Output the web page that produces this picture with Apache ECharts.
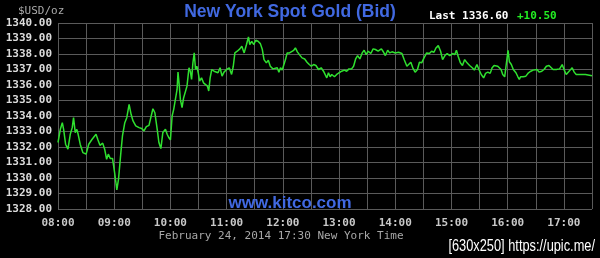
<!DOCTYPE html>
<html><head><meta charset="utf-8">
<script src="https://cdn.jsdelivr.net/npm/echarts@6/dist/echarts.min.js"></script>
<style>html,body{margin:0;padding:0;background:#000;}#c{width:600px;height:258px;}</style>
</head><body><div id="c"></div>
<script>
// minutes after 08:00 (New York time)
const minutes = [
  0, 2.5, 4.6, 6, 8.1, 10.6, 13.1, 15.2, 16.6, 18.4, 20.1, 21.5, 23.7, 26.5, 30, 32.8, 36.4, 40.6, 42.4, 44.8,
  47.7, 49.8, 51.9, 53.7, 55.8, 58.2, 60.4, 61.8, 62.8, 64.6, 67.1, 68.8, 71.3, 73.4, 75.9, 78, 80.1, 83, 86.5, 89.3,
  91.8, 94.3, 97.1, 98.8, 101.3, 103.4, 105.9, 107.7, 109.8, 111.9, 114.7, 116.5, 118.2, 120,
  121.8, 123.5, 125.3, 127.1, 128.1, 129.5, 130.6, 132.4, 134.1, 136.2, 137.7, 139.8, 141.2, 142.6, 144, 145.4,
  146.8, 148.2, 149.7, 151.1, 153.2, 155.3, 157.4, 159.5, 160.9, 162.4, 164.1, 166.6, 168.7, 170.8, 173, 175.1,
  177.2, 180, 182.8, 185.3, 187.1, 188.8, 191.3, 194.1, 196.2, 198.7, 201.2, 203.3, 204.7, 206.8, 209, 211.1,
  213.5, 216, 218.1, 219.9, 222.4, 224.5, 226.6, 229.4,
  231.5, 234, 235.8, 237.5, 239.3, 241.1, 242.8, 244.6, 247.1, 249.2, 251.6, 253.4, 255.5, 257.7, 260.5, 263.3,
  265.8, 268.2, 270.4, 272.8, 275.3, 278.1, 280.9, 283.4, 285.2, 286.9, 288.7, 290.5, 292.2, 295.1, 297.5, 300,
  302.8, 305.7, 308.1, 310.6, 313.4, 315.5, 317.7, 319.8, 322.2, 324.7, 326.8, 329, 331.1, 333.9, 336.4, 338.8,
  341.7, 345.2,
  346.9, 349.4, 351.9, 354, 356.5, 360, 363.5, 367.1, 369.5, 372.4, 374.5, 376.6, 378.7, 381.2, 383.7, 385.8,
  388.2, 390.7, 393.5, 396.4, 398.8, 401.3, 403.4, 405.9, 408.4, 410.5, 413, 415.4, 418.2, 421.1, 423.5, 425.3,
  427.1, 429.5, 431.7, 434.1, 436.6, 439.4, 442.2, 444.4, 447.2, 449.3, 451.8, 454.3, 456.4, 458.8,
  461.3, 463.4, 465.5, 467.6, 469.4, 471.2, 472.9, 474.7, 476.8, 478.2, 479.6, 480.4, 481.8, 483.9, 486, 488.8,
  490.9, 492.4, 493.8, 496.6, 499.4, 502.2, 504.7, 507.2, 509.3, 511.4, 513.5, 516.4, 518.8, 521.3, 524.1, 526.2,
  528.4, 531.9, 535.4, 538.2, 540.4, 542.5, 544.6, 546.7, 548.8, 551, 553.1, 555.9, 563, 570
];
const prices = [
  1332.29, 1333.14, 1333.57, 1333.14, 1332.18, 1331.86, 1332.82, 1333.25, 1333.89, 1332.93, 1333.14, 1332.82, 1332.18, 1331.64, 1331.54, 1332.18, 1332.50, 1332.82, 1332.50, 1332.11,
  1332.25, 1331.86, 1331.21, 1331.54, 1331.26, 1331.26, 1330.36, 1329.71, 1329.24, 1329.93, 1331.64, 1332.71, 1333.57, 1333.89, 1334.75, 1334.11, 1333.68, 1333.36, 1333.25, 1333.19,
  1333.04, 1333.31, 1333.40, 1333.40, 1334.47, 1334.21, 1333.14, 1332.29, 1331.90, 1332.93, 1333.14, 1332.82, 1332.61, 1332.46,
  1334.00, 1334.43, 1334.54, 1335.71, 1336.83, 1335.93, 1335.07, 1334.54, 1335.18, 1335.29, 1335.93, 1337.11, 1336.89, 1336.36, 1337.43, 1338.07,
  1337.00, 1337.21, 1336.79, 1336.25, 1336.46, 1336.14, 1336.25, 1335.93, 1335.61, 1336.46, 1337.00, 1336.89, 1337.00, 1336.79, 1337.11, 1336.57,
  1336.83, 1337.00, 1337.11, 1336.68, 1337.21, 1338.07, 1338.18, 1338.33, 1338.50, 1338.07, 1338.61, 1339.10, 1338.61, 1338.82, 1338.61, 1338.89,
  1338.82, 1338.67, 1338.29, 1337.64, 1337.43, 1337.60, 1337.21, 1337.04,
  1337.00, 1337.11, 1336.83, 1337.11, 1336.96, 1337.00, 1337.64, 1338.07, 1338.07, 1338.18, 1338.24, 1338.39, 1338.14, 1337.96, 1337.75, 1337.68,
  1337.47, 1337.32, 1337.21, 1337.32, 1337.26, 1337.00, 1337.11, 1336.89, 1336.96, 1336.46, 1336.79, 1336.53, 1336.68, 1336.53, 1336.68, 1336.79,
  1336.89, 1336.96, 1336.89, 1337.04, 1337.04, 1337.21, 1337.68, 1337.90, 1337.68, 1338.07, 1338.24, 1337.96, 1338.18, 1338.03, 1338.33, 1338.29,
  1338.18, 1338.33,
  1338.18, 1337.90, 1338.24, 1338.07, 1338.14, 1338.07, 1338.11, 1338.03, 1337.64, 1337.21, 1337.26, 1337.47, 1337.11, 1336.83, 1337.00, 1337.47,
  1337.43, 1337.75, 1338.07, 1338.03, 1338.18, 1338.11, 1338.39, 1338.54, 1338.18, 1337.64, 1337.90, 1338.03, 1337.90, 1338.03, 1337.96, 1338.24,
  1337.86, 1337.43, 1337.26, 1337.64, 1337.43, 1337.26, 1337.11, 1336.96, 1337.32, 1337.00, 1336.68, 1336.46, 1336.75, 1336.83,
  1336.75, 1337.11, 1337.26, 1337.32, 1337.21, 1337.32, 1337.00, 1336.68, 1336.53, 1337.21, 1337.86, 1338.24, 1337.50, 1337.32, 1337.00, 1336.79,
  1336.53, 1336.36, 1336.53, 1336.53, 1336.57, 1336.79, 1336.89, 1336.96, 1336.89, 1337.00, 1336.83, 1336.89, 1337.00, 1337.21, 1337.26, 1337.21,
  1337.00, 1337.00, 1337.04, 1337.32, 1336.96, 1336.68, 1336.79, 1336.96, 1337.11, 1336.83, 1336.68, 1336.68, 1336.68, 1336.60
];
const hourLabels = ['08:00','09:00','10:00','11:00','12:00','13:00','14:00','15:00','16:00','17:00'];
const yMin = 1328, yMax = 1340;
const titleText = 'New York Spot Gold (Bid)';
const lastText = 'Last 1336.60';
const changeText = '+10.50';
const unitText = '$USD/oz';
const siteText = 'www.kitco.com';
const dateText = 'February 24, 2014 17:30 New York Time';
const markText = '[630x250] https://upic.me/';

const chart = echarts.init(document.getElementById('c'), null, {renderer: 'canvas'});
const mono = '"DejaVu Sans Mono", monospace';
chart.setOption({
  backgroundColor: '#000',
  animation: false,
  grid: {left: 58, right: 8, top: 23, bottom: 49, containLabel: false},
  xAxis: {
    type: 'value', min: 0, max: 570, interval: 30,
    axisLine: {show: false}, axisTick: {show: false},
    splitLine: {show: true, lineStyle: {color: '#5a5a5a', width: 1}},
    axisLabel: {
      color: '#c8c8c8', fontFamily: mono, fontSize: 11, fontWeight: 'bold', margin: 9,
      showMinLabel: true, showMaxLabel: true,
      formatter: v => (v % 60 === 0 ? hourLabels[v / 60] : '')
    }
  },
  yAxis: {
    type: 'value', min: yMin, max: yMax, interval: 1,
    axisLine: {show: false}, axisTick: {show: false},
    splitLine: {show: true, lineStyle: {color: '#5a5a5a', width: 1}},
    axisLabel: {color: '#dcdcdc', fontFamily: mono, fontSize: 11, fontWeight: 'bold', margin: 6,
      formatter: v => v.toFixed(2)}
  },
  series: [{
    type: 'line', data: minutes.map((m, i) => [m, prices[i]]),
    showSymbol: false, symbol: 'none',
    lineStyle: {color: '#2fe02f', width: 1.5}
  }],
  graphic: [
    {type: 'text', x: 290, y: 12, style: {text: titleText, fill: '#4169e1', font: 'bold 17.5px "Liberation Sans", Arial', textAlign: 'center', textVerticalAlign: 'middle'}},
    {type: 'text', x: 18, y: 11, style: {text: unitText, fill: '#aaaaaa', font: '11px ' + mono, textAlign: 'left', textVerticalAlign: 'middle'}},
    {type: 'text', x: 429, y: 16.5, style: {text: lastText, fill: '#ffffff', font: 'bold 11px ' + mono, textAlign: 'left', textVerticalAlign: 'middle'}},
    {type: 'text', x: 517, y: 16.5, style: {text: changeText, fill: '#22ee22', font: 'bold 11px ' + mono, textAlign: 'left', textVerticalAlign: 'middle'}},
    {type: 'text', x: 290, y: 203, z: 10, style: {text: siteText, fill: '#4169e1', font: 'bold 17px "Liberation Sans", Arial', textAlign: 'center', textVerticalAlign: 'middle'}},
    {type: 'text', x: 281, y: 236, style: {text: dateText, fill: '#a8a8a8', font: '11px ' + mono, textAlign: 'center', textVerticalAlign: 'middle'}},
    {type: 'text', x: 595, y: 247, scaleX: 0.8, style: {text: markText, fill: '#ffffff', font: '16px "Liberation Sans", Arial', textAlign: 'right', textVerticalAlign: 'middle'}}
  ]
});
</script>
</body></html>
